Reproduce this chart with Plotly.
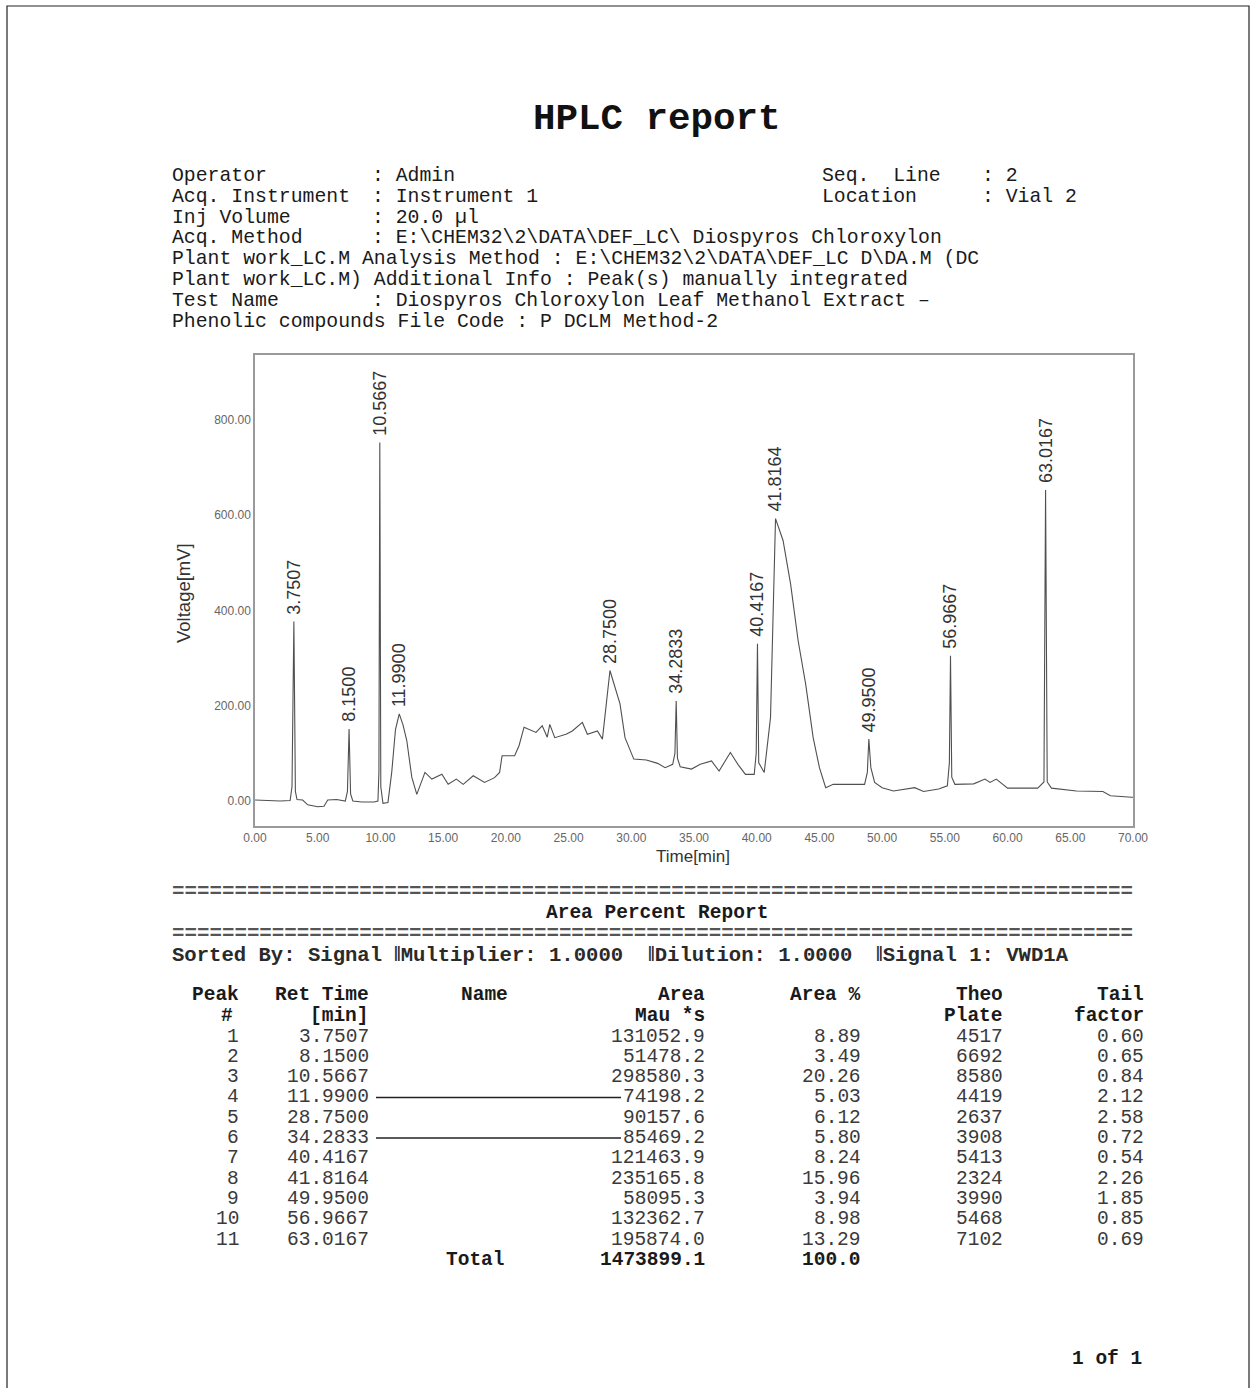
import plotly.graph_objects as go

W, H = 1252, 1388

# ---------------- chromatogram ----------------
time_min = [0.0, 1.0, 2.0, 2.8, 2.95, 3.1, 3.22, 3.35, 3.8, 4.2, 5.0, 5.5, 5.8, 6.5, 7.2,
            7.37, 7.5, 7.62, 7.8, 8.5, 9.5, 9.8, 9.88, 9.95, 10.03, 10.2, 10.6, 10.9, 11.2,
            11.5, 11.8, 12.1, 12.5, 12.9, 13.55, 14.1, 14.9, 15.4, 16.05, 16.6, 17.4, 18.3,
            19.1, 19.5, 19.7, 20.7, 21.05, 21.45, 22.4, 22.9, 23.3, 23.5, 23.9, 24.8, 25.3,
            26.1, 26.5, 27.3, 27.7, 28.3, 29.1, 29.5, 30.2, 31.2, 32.1, 32.7, 33.3, 33.48,
            33.58, 33.68, 33.9, 34.8, 35.5, 36.4, 37.0, 37.9, 38.5, 39.1, 39.8, 39.96, 40.06,
            40.16, 40.6, 41.1, 41.5, 42.1, 42.7, 43.3, 43.9, 44.5, 45.0, 45.5, 46.1, 48.6,
            48.82, 48.94, 49.1, 49.4, 50.0, 50.9, 52.6, 53.3, 54.5, 55.2, 55.36, 55.45, 55.55,
            55.8, 57.3, 58.2, 58.6, 59.1, 60.0, 62.4, 62.9, 63.03, 63.16, 63.5, 65.5, 67.6,
            68.2, 69.9, 70.0]
voltage_mv = [2, 1, 0, 1, 30, 377, 20, 3, 2, -8, -12, -11, 2, 3, 0,
              20, 151, 15, 0, -2, -2, 0, 60, 753, 30, -5, -3, 60, 150,
              183, 160, 127, 50, 14, 60, 46, 56, 35, 46, 35, 53, 39,
              49, 60, 95, 95, 116, 155, 144, 158, 134, 161, 133, 140, 147,
              165, 140, 147, 130, 274, 204, 133, 88, 86, 79, 70, 77, 100,
              210, 90, 72, 67, 77, 84, 63, 102, 77, 56, 56, 100, 330,
              80, 60, 175, 593, 547, 456, 337, 246, 133, 70, 28, 35, 35,
              60, 130, 70, 39, 28, 21, 28, 20, 25, 32, 80, 305, 50,
              35, 36, 46, 39, 46, 27, 27, 40, 653, 40, 27, 21, 20,
              11, 8, 8]

peak_label = ["3.7507", "8.1500", "10.5667", "11.9900", "28.7500", "34.2833",
              "40.4167", "41.8164", "49.9500", "56.9667", "63.0167"]
peak_apex_time = [3.1, 7.5, 9.95, 11.5, 28.3, 33.58, 40.06, 41.5, 48.94, 55.45, 63.03]
peak_apex_mv = [377, 151, 753, 183, 274, 210, 330, 593, 130, 305, 653]

x_ticks = [0, 5, 10, 15, 20, 25, 30, 35, 40, 45, 50, 55, 60, 65, 70]
y_ticks = [0, 200, 400, 600, 800]

# ---------------- table (Area Percent Report) ----------------
peak_no = [1, 2, 3, 4, 5, 6, 7, 8, 9, 10, 11]
ret_time = peak_label
area = [131052.9, 51478.2, 298580.3, 74198.2, 90157.6, 85469.2, 121463.9,
        235165.8, 58095.3, 132362.7, 195874.0]
area_pct = [8.89, 3.49, 20.26, 5.03, 6.12, 5.80, 8.24, 15.96, 3.94, 8.98, 13.29]
theo_plate = [4517, 6692, 8580, 4419, 2637, 3908, 5413, 2324, 3990, 5468, 7102]
tail_factor = [0.60, 0.65, 0.84, 2.12, 2.58, 0.72, 0.54, 2.26, 1.85, 0.85, 0.69]
total_area = 1473899.1
total_pct = 100.0

header_left = [
    ("Operator", "Admin"),
    ("Acq. Instrument", "Instrument 1"),
    ("Inj Volume", "20.0 µl"),
    ("Acq. Method", "E:\\CHEM32\\2\\DATA\\DEF_LC\\ Diospyros Chloroxylon"),
]
header_right = [("Seq.  Line", "2"), ("Location", "Vial 2")]
header_free = [
    "Plant work_LC.M Analysis Method : E:\\CHEM32\\2\\DATA\\DEF_LC D\\DA.M (DC",
    "Plant work_LC.M) Additional Info : Peak(s) manually integrated",
]
test_name = ("Test Name", "Diospyros Chloroxylon Leaf Methanol Extract –")
file_code = "Phenolic compounds File Code : P DCLM Method-2"
sorted_by = ["Sorted By: Signal", "‖Multiplier: 1.0000", "‖Dilution: 1.0000",
             "‖Signal 1: VWD1A"]

MONO = "Liberation Mono"
SANS = "Liberation Sans, Arial"


def px(x):
    return x / W


def py(y):
    return 1 - y / H


def nb(s):
    return s.replace(" ", "\u00a0")


annotations = []


def text(x, y, s, size=20, anchor="left", bold=False, color="#1a1a1a", family=MONO):
    t = nb(s)
    if bold:
        t = "<b>" + t + "</b>"
    annotations.append(dict(x=px(x), y=py(y), xref="paper", yref="paper", text=t,
                            showarrow=False, xanchor=anchor, yanchor="middle",
                            font=dict(family=family, size=size, color=color)))


fig = go.Figure()
fig.add_trace(go.Scatter(x=time_min, y=voltage_mv, mode="lines",
                         line=dict(color="#505050", width=1.1), hoverinfo="skip",
                         showlegend=False))

# peak labels
for t, v, lab in zip(peak_apex_time, peak_apex_mv, peak_label):
    annotations.append(dict(x=t, y=v, xref="x", yref="y", text=lab, textangle=-90,
                            showarrow=False, xanchor="center", yanchor="bottom", yshift=5,
                            font=dict(family=SANS, size=18, color="#333333")))

# axis titles
annotations.append(dict(x=px(183), y=py(593), xref="paper", yref="paper",
                        text="Voltage[mV]", textangle=-90, showarrow=False,
                        xanchor="center", yanchor="middle",
                        font=dict(family=SANS, size=18.5, color="#333333")))
annotations.append(dict(x=px(693), y=py(856), xref="paper", yref="paper",
                        text="Time[min]", showarrow=False,
                        xanchor="center", yanchor="middle",
                        font=dict(family=SANS, size=17, color="#333333")))

# title
text(657, 119, "HPLC report", size=37.5, anchor="center", bold=True, color="#111111")

# header block
HS = 19.8
x0 = 170
xcol = 370
rows_y = [176.5, 197.5, 218, 238.5, 259, 279.5, 300.5, 321.5]
for (k, v), y in zip(header_left, rows_y[:4]):
    text(x0, y, k, size=HS)
    text(xcol, y, ": " + v, size=HS)
for (k, v), y in zip(header_right, rows_y[:2]):
    text(820, y, k, size=HS)
    text(980, y, ": " + v, size=HS)
text(x0, rows_y[4], header_free[0], size=HS)
text(x0, rows_y[5], header_free[1], size=HS)
text(x0, rows_y[6], test_name[0], size=HS)
text(xcol, rows_y[6], ": " + test_name[1], size=HS)
text(x0, rows_y[7], file_code, size=HS)

# report header
text(x0, 891, "=" * 77, color="#555555", bold=True, size=20.8)
text(657, 913, "Area Percent Report", anchor="center", bold=True, size=19.5)
text(x0, 933, "=" * 77, color="#555555", bold=True, size=20.8)
for xs, seg in zip([170, 392, 646, 874], sorted_by):
    text(xs, 955, seg, size=20.6, bold=True, color="#2a2a2a")

# table
COLS = dict(peak=241, ret=371, area=707, pct=863, plate=1005, tail=1146)
hy1, hy2 = 995, 1015.5
TS = 19.5
text(COLS["peak"], hy1, "Peak", size=TS, anchor="right", bold=True)
text(COLS["peak"] - 6, hy2, "#", size=TS, anchor="right", bold=True)
text(COLS["ret"], hy1, "Ret Time", size=TS, anchor="right", bold=True)
text(COLS["ret"], hy2, "[min]", size=TS, anchor="right", bold=True)
text(484, hy1, "Name", size=TS, anchor="center", bold=True)
text(COLS["area"], hy1, "Area", size=TS, anchor="right", bold=True)
text(COLS["area"], hy2, "Mau *s", size=TS, anchor="right", bold=True)
text(COLS["pct"], hy1, "Area %", size=TS, anchor="right", bold=True)
text(COLS["plate"], hy1, "Theo", size=TS, anchor="right", bold=True)
text(COLS["plate"], hy2, "Plate", size=TS, anchor="right", bold=True)
text(COLS["tail"], hy1, "Tail", size=TS, anchor="right", bold=True)
text(COLS["tail"], hy2, "factor", size=TS, anchor="right", bold=True)

row0, step = 1036.5, 20.3
vc = "#3a3a3a"
for i in range(len(peak_no)):
    y = row0 + i * step
    text(COLS["peak"], y, str(peak_no[i]), size=TS, anchor="right", color=vc)
    text(COLS["ret"], y, ret_time[i], size=TS, anchor="right", color=vc)
    text(COLS["area"], y, f"{area[i]:.1f}", size=TS, anchor="right", color=vc)
    text(COLS["pct"], y, f"{area_pct[i]:.2f}", size=TS, anchor="right", color=vc)
    text(COLS["plate"], y, str(theo_plate[i]), size=TS, anchor="right", color=vc)
    text(COLS["tail"], y, f"{tail_factor[i]:.2f}", size=TS, anchor="right", color=vc)
ty = row0 + len(peak_no) * step
text(507, ty, "Total", size=TS, anchor="right", bold=True)
text(COLS["area"], ty, f"{total_area:.1f}", size=TS, anchor="right", bold=True)
text(COLS["pct"], ty, f"{total_pct:.1f}", size=TS, anchor="right", bold=True)

text(1144, 1359, "1 of 1", size=TS, anchor="right", bold=True)

shapes = []
# connector lines on rows 4 and 6
for r in (3, 5):
    y = row0 + r * step
    shapes.append(dict(type="line", xref="paper", yref="paper", x0=px(376), x1=px(621),
                       y0=py(y), y1=py(y), line=dict(color="#222222", width=1.5)))
# page border
shapes.append(dict(type="rect", xref="paper", yref="paper", x0=px(7), x1=px(1249),
                   y0=py(1392), y1=py(6), line=dict(color="#222222", width=1.2)))

fig.update_layout(
    width=W, height=H, autosize=False,
    margin=dict(l=0, r=0, t=0, b=0, pad=0, autoexpand=False),
    paper_bgcolor="white", plot_bgcolor="white",
    showlegend=False,
    annotations=annotations,
    shapes=shapes,
    xaxis=dict(domain=[px(255), px(1133)], range=[0, 70], tickvals=x_ticks,
               ticktext=[f"{v:.2f}" for v in x_ticks], showgrid=False, zeroline=False,
               showline=True, mirror=True, linecolor="#9a9a9a", linewidth=1.5,
               automargin=False, ticks="",
               tickfont=dict(family=SANS, size=12, color="#666666")),
    yaxis=dict(domain=[py(826), py(355)], range=[-52.5, 936.5], tickvals=y_ticks,
               ticktext=[f"{v:.2f}" for v in y_ticks], showgrid=False, zeroline=False,
               showline=True, mirror=True, linecolor="#9a9a9a", linewidth=1.5,
               automargin=False, ticks="", ticklabelstandoff=0,
               tickfont=dict(family=SANS, size=12, color="#666666")),
)

fig.write_html(
    "out.html",
    config={"responsive": False, "displayModeBar": False},
    post_script="document.body.style.margin='0';document.body.style.overflow='hidden';",
)
